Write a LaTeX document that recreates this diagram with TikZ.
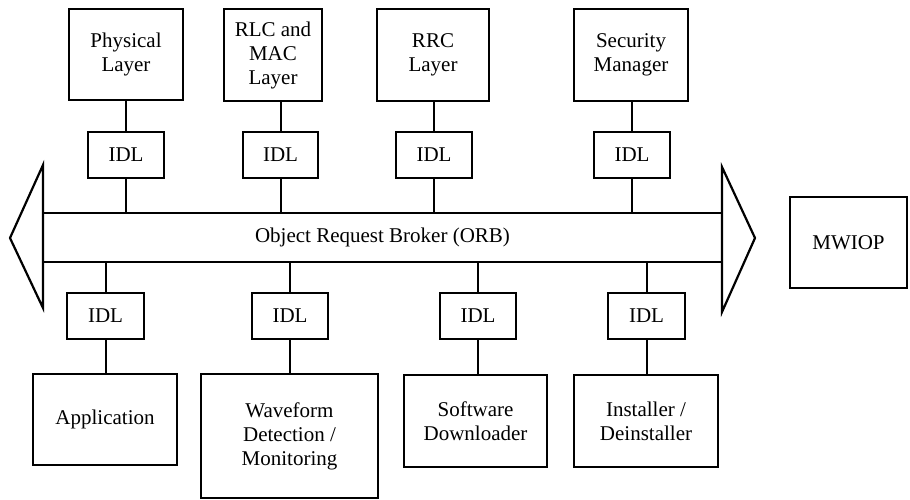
\documentclass[tikz,border=0pt]{standalone}
\usepackage{fontspec}
\setmainfont{Liberation Serif}
\begin{document}
\begin{tikzpicture}[x=1pt,y=-1pt,
  txt/.style={font=\fontsize{21}{24}\selectfont},
  box/.style={draw, line width=2.2pt, align=center, inner sep=0pt, txt},
  idl/.style={box, minimum width=76pt, minimum height=46pt},
  link/.style={line width=2pt},
  tip/.style={draw, line width=2.2pt, line join=miter}]
\useasboundingbox (0,0) rectangle (910,500);

% upper components
\node[box, minimum width=114pt, minimum height=91pt] (phy) at (126,54.5) {Physical\\Layer};
\node[box, minimum width=98pt,  minimum height=92pt] (rlc) at (273,55) {RLC and\\MAC\\Layer};
\node[box, minimum width=112pt, minimum height=92pt] (rrc) at (433,55) {RRC\\Layer};
\node[box, minimum width=114pt, minimum height=92pt] (sec) at (631,55) {Security\\Manager};

\node[idl] (ia) at (126,155) {IDL};
\node[idl, minimum width=75pt] (ib) at (280.5,155) {IDL};
\node[idl] (ic) at (434,155) {IDL};
\node[idl] (id) at (632,155) {IDL};

% the broker bus with its two arrow heads
\node[box, minimum width=679pt, minimum height=49pt] (orb) at (382.5,237.5) {Object Request Broker (ORB)};
\draw[tip] (10,238) -- (43,165) -- (43,308) -- cycle;
\draw[tip] (755,238) -- (722,167) -- (722,312) -- cycle;

\node[box, minimum width=117pt, minimum height=91pt] (mw) at (848.5,242.5) {MWIOP};

% lower components
\node[idl, minimum width=77pt] (ja) at (105.5,316) {IDL};
\node[idl] (jb) at (290,316) {IDL};
\node[idl] (jc) at (478,316) {IDL};
\node[idl, minimum width=77pt] (jd) at (646.5,316) {IDL};

\node[box, minimum width=144pt, minimum height=91pt]  (app) at (105,419.5) {Application};
\node[box, minimum width=177pt, minimum height=124pt] (wav) at (289.5,436) {Waveform\\Detection /\\Monitoring};
\node[box, minimum width=143pt, minimum height=92pt]  (sw)  at (475.5,421) {Software\\Downloader};
\node[box, minimum width=144pt, minimum height=92pt]  (ins) at (646,421) {Installer /\\Deinstaller};

% connectors
\foreach \c/\i in {phy/ia, rlc/ib, rrc/ic, sec/id} {
  \draw[link] (\i.north) -- (\i.north |- \c.south);
  \draw[link] (\i.south) -- (\i.south |- orb.north);
}
\foreach \c/\i in {app/ja, wav/jb, sw/jc, ins/jd} {
  \draw[link] (\i.north) -- (\i.north |- orb.south);
  \draw[link] (\i.south) -- (\i.south |- \c.north);
}
\end{tikzpicture}
\end{document}
